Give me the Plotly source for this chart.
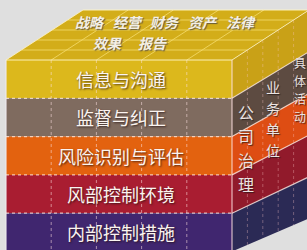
import plotly.graph_objects as go

# ---------------- data ----------------
layers = ["信息与沟通", "监督与纠正", "风险识别与评估", "风部控制环境", "内部控制措施"]
front_colors = ["#dcb81c", "#7f6b5f", "#e3620f", "#a91d31", "#40266f"]
side_colors = ["#c9a117", "#5d4b41", "#de4d13", "#911a2b", "#2b2a55"]
objectives_row1 = ["战略", "经营", "财务", "资产", "法律"]
objectives_row2 = ["效果", "报告"]
units = ["公司治理", "业务单位", "具体活动"]
n_front_cols = 5
n_depth_cols = 5

# ---------------- geometry / style ----------------
W, H = 307, 250
X0, X1 = 6.0, 232.0
Y0, BAND_H = 60.0, 38.3
YB = Y0 + BAND_H * len(layers)
DX, DY_TOP, DY_BOT = 77.0, -50.0, -33.0
BG = "#dfdfdf"
TOP_COLOR = "#d3ad19"
LINE_LIGHT = "rgba(255,235,225,0.75)"
GRID_TOP = "rgba(245,220,110,0.8)"
CJK = "Noto Sans CJK SC"


def proj(x, y, t):
    dy = DY_TOP + (DY_BOT - DY_TOP) * (y - Y0) / (YB - Y0)
    return x + t * DX, y + t * dy


fig = go.Figure()


def poly(pts, color):
    xs = [p[0] for p in pts] + [pts[0][0]]
    ys = [p[1] for p in pts] + [pts[0][1]]
    fig.add_trace(go.Scatter(x=xs, y=ys, mode="lines", fill="toself",
                             fillcolor=color, line=dict(width=0),
                             hoverinfo="skip", showlegend=False))


def seg(p, q, color, width=1, dash="solid"):
    fig.add_trace(go.Scatter(x=[p[0], q[0]], y=[p[1], q[1]], mode="lines",
                             line=dict(color=color, width=width, dash=dash),
                             hoverinfo="skip", showlegend=False))


# top face
poly([proj(X0, Y0, 0), proj(X1, Y0, 0), proj(X1, Y0, 1), proj(X0, Y0, 1)], TOP_COLOR)
for k in range(1, n_front_cols):
    x = X0 + k * (X1 - X0) / n_front_cols
    seg(proj(x, Y0, 0), proj(x, Y0, 1), GRID_TOP)
for k in range(1, n_depth_cols):
    t = k / n_depth_cols
    seg(proj(X0, Y0, t), proj(X1, Y0, t), GRID_TOP)
seg(proj(X0, Y0, 1), proj(X1, Y0, 1), "rgba(255,245,200,0.9)", 1.2)

# front and side bands
for i, (fc, sc) in enumerate(zip(front_colors, side_colors)):
    ya, yb = Y0 + i * BAND_H, Y0 + (i + 1) * BAND_H
    poly([(X0, ya), (X1, ya), (X1, yb), (X0, yb)], fc)
    poly([proj(X1, ya, 0), proj(X1, ya, 1), proj(X1, yb, 1), proj(X1, yb, 0)], sc)

# front grid
for k in range(1, n_front_cols):
    x = X0 + k * (X1 - X0) / n_front_cols
    seg((x, Y0), (x, YB), "rgba(255,225,225,0.55)", 1, "dot")
for i in range(1, len(layers)):
    y = Y0 + i * BAND_H
    seg((X0, y), (X1, y), LINE_LIGHT, 1.3, "dot")
    seg(proj(X1, y, 0), proj(X1, y, 1), LINE_LIGHT, 1.2)

# side grid
for k in range(1, n_depth_cols):
    t = k / n_depth_cols
    seg(proj(X1, Y0, t), proj(X1, YB, t), "rgba(255,200,200,0.35)", 1, "dot")

# edges
seg((X0, Y0), (X0, YB), "rgba(240,235,240,0.9)", 1.2)
seg((X0, Y0), (X1, Y0), "rgba(255,245,200,0.9)", 1.2)
seg((X1, Y0), (X1, YB), "rgba(255,225,225,0.8)", 1.2)
seg(proj(X0, Y0, 0), proj(X0, Y0, 1), "rgba(255,245,200,0.8)", 1)
seg(proj(X1, Y0, 0), proj(X1, Y0, 1), "rgba(255,245,200,0.8)", 1)

# front labels
for i, name in enumerate(layers):
    fig.add_annotation(x=(X0 + X1) / 2 + 2, y=Y0 + (i + 0.5) * BAND_H, text=name,
                       showarrow=False, xanchor="center", yanchor="middle",
                       font=dict(family=CJK, size=18, color="#fbf4f0",
                                 shadow="1px 1px 2px rgba(40,20,20,0.8)"))

# top labels
top_font = dict(family=CJK, size=14, color="#f3efe6", style="italic", weight="bold",
                shadow="1px 1px 1px rgba(90,80,60,0.9)")
for j, w in enumerate(objectives_row1):
    fig.add_annotation(x=90 + 37.7 * j, y=22, text=w, showarrow=False,
                       xanchor="center", yanchor="middle", font=top_font)
for j, w in enumerate(objectives_row2):
    fig.add_annotation(x=107 + 45 * j, y=43, text=w, showarrow=False,
                       xanchor="center", yanchor="middle", font=top_font)

# side labels (vertical)
for k, u in enumerate(units):
    t = 0.18 + 0.35 * k
    x = X1 + t * DX
    y_start = 112 - 25 * k
    step = 24 - 3 * k
    size = 16 - 2 * k
    for c, ch in enumerate(u):
        fig.add_annotation(x=x, y=y_start + c * step, text=ch, showarrow=False,
                           xanchor="center", yanchor="middle",
                           font=dict(family=CJK, size=size, color="#ece4e2",
                                     shadow="1px 1px 1px rgba(30,20,20,0.7)"))

fig.update_xaxes(range=[0, W], visible=False, fixedrange=True)
fig.update_yaxes(range=[H, 0], visible=False, fixedrange=True)
fig.update_layout(width=W, height=H, margin=dict(l=0, r=0, t=0, b=0),
                  paper_bgcolor=BG, plot_bgcolor=BG, showlegend=False)
fig.write_html("out.html", config={"displayModeBar": False},
               post_script="document.body.style.margin='0';document.body.style.overflow='hidden';")
